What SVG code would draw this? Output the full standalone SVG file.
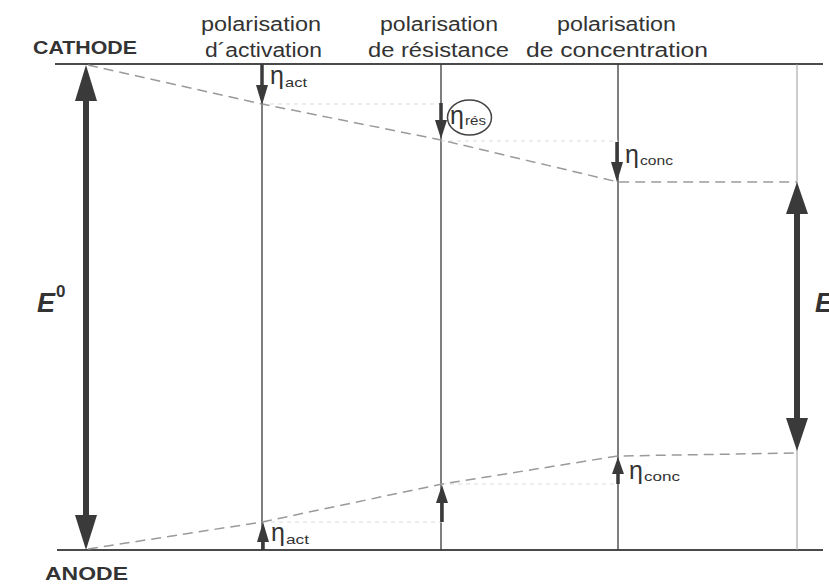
<svg xmlns="http://www.w3.org/2000/svg" width="829" height="586" viewBox="0 0 829 586">
<style>
.bg{fill:#ffffff}
.rail{stroke:#4a4a4a;stroke-width:2;fill:none}
.vl{stroke:#3a3a3a;stroke-width:1.3;fill:none}
.vlight{stroke:#9a9a9a;stroke-width:1;fill:none}
.dash{stroke:#9a9a9a;stroke-width:1.5;stroke-dasharray:10 6;fill:none}
.faint{stroke:#dcdcdc;stroke-width:1.2;stroke-dasharray:4 4;fill:none}
.shaft{stroke:#3a3a3a;fill:none}
.head{fill:#3a3a3a}
.hdr{font-family:"Liberation Sans",Arial,sans-serif;font-size:20px;fill:#333}
.el{font-family:"Liberation Sans",Arial,sans-serif;font-size:18px;font-weight:bold;fill:#333}
.big{font-family:"Liberation Sans",Arial,sans-serif;font-size:27px;font-weight:bold;font-style:italic;fill:#333}
.sup{font-family:"Liberation Sans",Arial,sans-serif;font-size:17px;font-weight:bold;fill:#333}
.eta{font-family:"Liberation Sans",Arial,sans-serif;font-size:25px;fill:#333}
.sub{font-family:"Liberation Sans",Arial,sans-serif;font-size:13px;fill:#333}
</style>
<rect class="bg" x="0" y="0" width="829" height="586"/>

<g id="connectors">
  <line class="rail" x1="55" y1="64" x2="823" y2="64"/>
  <line class="rail" x1="57" y1="550" x2="823" y2="550"/>
  <line class="vl" x1="262" y1="64" x2="262" y2="550"/>
  <line class="vl" x1="441" y1="64" x2="441" y2="550"/>
  <line class="vl" x1="618" y1="64" x2="618" y2="550"/>
  <line class="vlight" x1="797" y1="64" x2="797" y2="550"/>
  <line class="faint" x1="262" y1="104" x2="441" y2="104"/>
  <line class="faint" x1="441" y1="141" x2="618" y2="141"/>
  <line class="faint" x1="263" y1="522" x2="442" y2="522"/>
  <line class="faint" x1="442" y1="484" x2="618" y2="484"/>
  <polyline class="dash" points="88,65 262,104 441,140 618,182 797,182"/>
  <polyline class="dash" points="88,549 262,522 442,484 618,456 797,453"/>
</g>

<g id="E0-arrow">
  <line class="shaft" x1="86" y1="96" x2="86" y2="519" stroke-width="6"/>
  <polygon class="head" points="86,65 75,101 97,101"/>
  <polygon class="head" points="86,550 75,515 97,515"/>
  <text class="big" x="37" y="312">E</text>
  <text class="sup" x="56" y="297">0</text>
</g>

<g id="E-arrow">
  <line class="shaft" x1="797" y1="208" x2="797" y2="424" stroke-width="6"/>
  <polygon class="head" points="797,182 786,214 808,214"/>
  <polygon class="head" points="797,451 786,418 808,418"/>
  <text class="big" x="815" y="312">E</text>
</g>

<g id="cathode">
  <text class="el" x="33" y="54" textLength="104" lengthAdjust="spacingAndGlyphs">CATHODE</text>
</g>
<g id="anode">
  <text class="el" x="45" y="580" textLength="83" lengthAdjust="spacingAndGlyphs">ANODE</text>
</g>

<g id="col-activation">
  <text class="hdr" x="201" y="31" textLength="120" lengthAdjust="spacingAndGlyphs">polarisation</text>
  <text class="hdr" x="205" y="57" textLength="117" lengthAdjust="spacingAndGlyphs">d´activation</text>
  <line class="shaft" x1="262" y1="64" x2="262" y2="88" stroke-width="3.5"/>
  <polygon class="head" points="262,105 256,85 268,85"/>
  <text class="eta" x="270" y="84">η</text>
  <text class="sub" x="285" y="87" textLength="22" lengthAdjust="spacingAndGlyphs">act</text>
  <line class="shaft" x1="263" y1="550" x2="263" y2="538" stroke-width="3.5"/>
  <polygon class="head" points="263,522 257,542 269,542"/>
  <text class="eta" x="271" y="541">η</text>
  <text class="sub" x="286" y="544" textLength="23" lengthAdjust="spacingAndGlyphs">act</text>
</g>

<g id="col-resistance">
  <text class="hdr" x="380" y="31" textLength="118" lengthAdjust="spacingAndGlyphs">polarisation</text>
  <text class="hdr" x="368" y="57" textLength="141" lengthAdjust="spacingAndGlyphs">de résistance</text>
  <line class="shaft" x1="441" y1="103" x2="441" y2="124" stroke-width="3.5"/>
  <polygon class="head" points="441,139 435,120 447,120"/>
  <ellipse cx="469.5" cy="117.5" rx="22" ry="17.5" fill="none" stroke="#444" stroke-width="1.5"/>
  <text class="eta" x="450" y="124">η</text>
  <text class="sub" x="465" y="125" textLength="21" lengthAdjust="spacingAndGlyphs">rés</text>
  <line class="shaft" x1="442" y1="522" x2="442" y2="498" stroke-width="3.5"/>
  <polygon class="head" points="442,485 436,503 448,503"/>
</g>

<g id="col-concentration">
  <text class="hdr" x="557" y="31" textLength="119" lengthAdjust="spacingAndGlyphs">polarisation</text>
  <text class="hdr" x="526" y="57" textLength="182" lengthAdjust="spacingAndGlyphs">de concentration</text>
  <line class="shaft" x1="617" y1="142" x2="617" y2="166" stroke-width="3.5"/>
  <polygon class="head" points="617,182 611,162 623,162"/>
  <text class="eta" x="625" y="163">η</text>
  <text class="sub" x="640" y="165" textLength="33" lengthAdjust="spacingAndGlyphs">conc</text>
  <line class="shaft" x1="618" y1="484" x2="618" y2="470" stroke-width="3.5"/>
  <polygon class="head" points="618,457 612,474 624,474"/>
  <text class="eta" x="629" y="479">η</text>
  <text class="sub" x="644" y="481" textLength="36" lengthAdjust="spacingAndGlyphs">conc</text>
</g>
</svg>
